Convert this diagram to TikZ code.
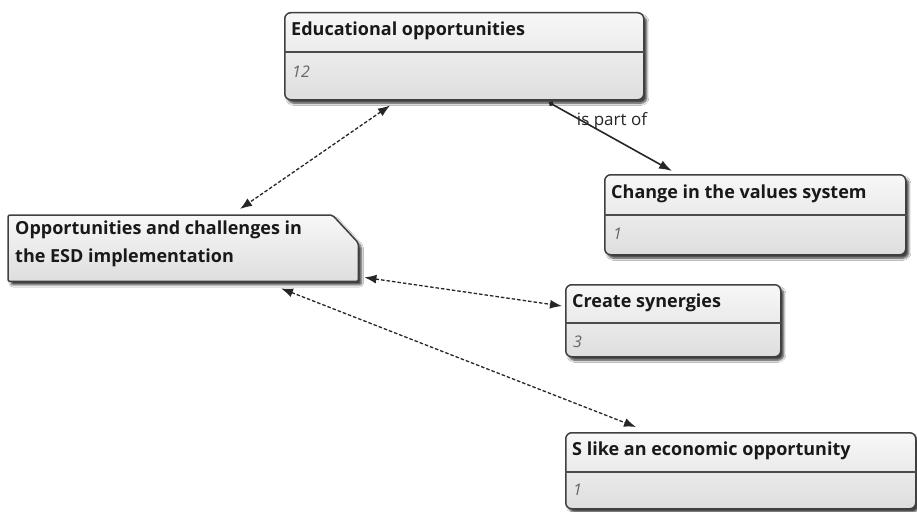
\documentclass[tikz,border=0pt]{standalone}
\usepackage{fontspec}
\setmainfont{Open Sans}
\usetikzlibrary{shadows.blur,arrows.meta,calc}
\tikzset{
  ent/.style={draw=black!75, line width=1.5pt, rounded corners=6pt,
    top color=white!97!black, bottom color=black!13,
    blur shadow={shadow xshift=3pt,shadow yshift=-3.5pt,shadow blur steps=6,shadow opacity=75},
    anchor=north west, inner sep=0pt},
  ttl/.style={font=\bfseries\fontsize{18}{21}\selectfont, anchor=west, inner sep=0pt, text=black!90},
  cnt/.style={font=\itshape\fontsize{16}{18}\selectfont, anchor=west, inner sep=0pt, text=black!60},
  divline/.style={draw=black!70, line width=1.3pt},
  dlink/.style={line width=1.3pt, draw=black!85, dash pattern=on 3.5pt off 2pt,
    {Latex[length=12pt,width=9pt]}-{Latex[length=12pt,width=9pt]}},
  rlink/.style={line width=1.6pt, draw=black!85,
    {Circle[length=5pt]}-{Latex[length=13pt,width=9pt]}},
  rlabel/.style={font=\fontsize{17}{20}\selectfont, text=black!85, inner sep=0pt}
}
\begin{document}
\begin{tikzpicture}[x=1pt,y=-1pt]
\useasboundingbox (0,0) rectangle (917,511);
\fill[white] (0,0) rectangle (917,511);

% Educational opportunities
\node[ent, minimum width=359pt, minimum height=87pt] (edu) at (284,12) {};
\draw[divline] (edu.west |- 0,52) -- (edu.east |- 0,52);
\node[ttl] (eduT) at (291,31) {Educational opportunities};
\node[cnt] (eduC) at (292,72) {12};

% Change in the values system
\node[ent, minimum width=301pt, minimum height=80pt] (chg) at (604,174) {};
\draw[divline] (chg.west |- 0,215) -- (chg.east |- 0,215);
\node[ttl] (chgT) at (611,194) {Change in the values system};
\node[cnt] (chgC) at (613,234) {1};

% Create synergies
\node[ent, minimum width=215pt, minimum height=72pt] (syn) at (565,284) {};
\draw[divline] (syn.west |- 0,323) -- (syn.east |- 0,323);
\node[ttl] (synT) at (572,303) {Create synergies};
\node[cnt] (synC) at (573,342) {3};

% S like an economic opportunity
\node[ent, minimum width=350pt, minimum height=76pt] (eco) at (565,432) {};
\draw[divline] (eco.west |- 0,472) -- (eco.east |- 0,472);
\node[ttl] (ecoT) at (572,451) {S like an economic opportunity};
\node[cnt] (ecoC) at (573,490) {1};

% Opportunities and challenges (cut corner)
\node[anchor=north west, minimum width=350pt, minimum height=66pt, inner sep=0pt] (opp) at (8,215) {};
\path[draw=black!75, line width=1.5pt, rounded corners=2pt,
    top color=white!97!black, bottom color=black!13,
    blur shadow={shadow xshift=3pt,shadow yshift=-3.5pt,shadow blur steps=6,shadow opacity=75}]
  (opp.north west) -- ([shift={(-26,0)}]opp.north east) -- ([shift={(0,28)}]opp.north east)
  -- (opp.south east) -- (opp.south west) -- cycle;
\node[ttl, align=left, anchor=north west, font=\bfseries\fontsize{18}{28}\selectfont] (oppT) at (15,221)
  {Opportunities and challenges in\\the ESD implementation};

% connectors
\draw[dlink] ([shift={(106,5)}]edu.south west) -- ([shift={(232,-6)}]opp.north west);
\draw[rlink] ([shift={(265,2)}]edu.south west) -- ([shift={(68,-3)}]chg.north west);
\node[rlabel] (isp) at (612,121) {is part of};
\draw[dlink] ([shift={(6,-4)}]opp.south east) -- ([shift={(-3,22)}]syn.north west);
\draw[dlink] ([shift={(273,7)}]opp.south west) -- ([shift={(71,-5)}]eco.north west);
\end{tikzpicture}
\end{document}
